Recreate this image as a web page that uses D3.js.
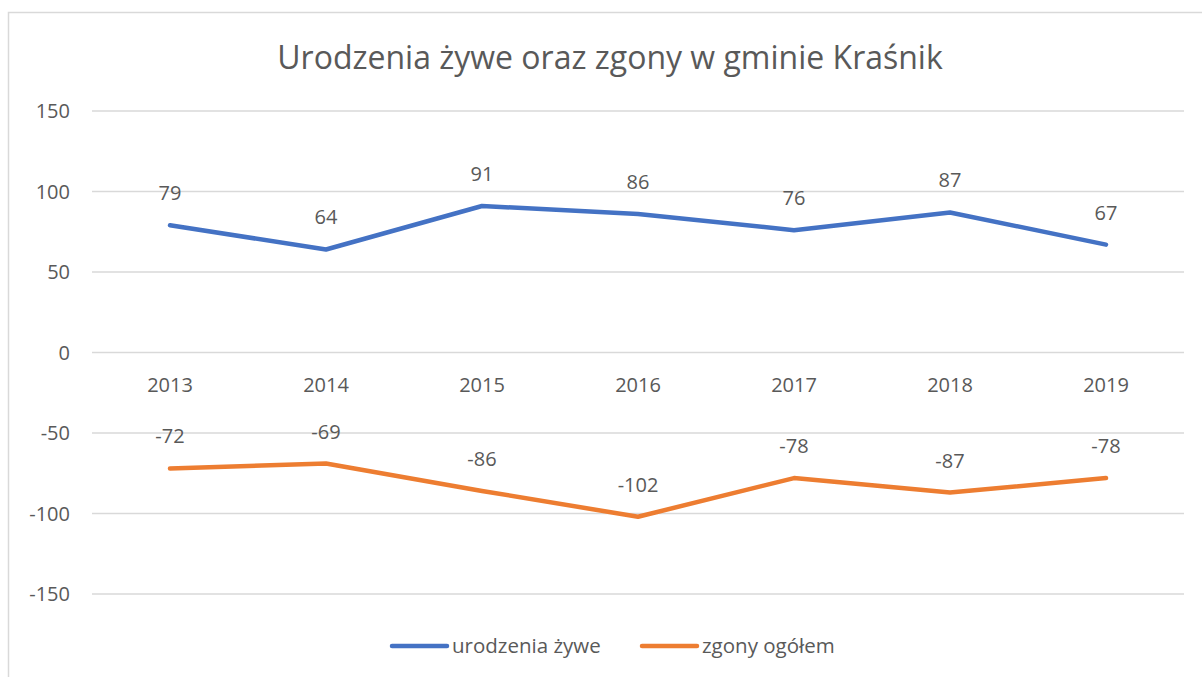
<!DOCTYPE html>
<html><head><meta charset="utf-8">
<script src="https://cdn.jsdelivr.net/npm/d3@7"></script>
<style>body{margin:0;background:#fff}svg{display:block}text{font-family:"Open Sans",sans-serif;fill:#595959}</style>
</head><body><svg id="c" width="1202" height="677"></svg>
<script>
const years = ["2013","2014","2015","2016","2017","2018","2019"];
const births = [79,64,91,86,76,87,67];
const deaths = [-72,-69,-86,-102,-78,-87,-78];
const yTicks = [150,100,50,0,-50,-100,-150];
const seriesNames = ["urodzenia żywe","zgony ogółem"];
const colors = ["#4472C4","#ED7D31"];
const title = "Urodzenia żywe oraz zgony w gminie Kraśnik";

const svg = d3.select("#c");
svg.append("rect").attr("x",8.5).attr("y",12.5).attr("width",1300).attr("height",800)
  .attr("fill","none").attr("stroke","#d9d9d9").attr("stroke-width",1.5);

const x = d3.scaleBand().domain(years).range([92,1184]);
const y = d3.scaleLinear().domain([-150,150]).range([594,111]);

svg.append("text").attr("x",610).attr("y",69).attr("text-anchor","middle")
  .style("font-size","32px").text(title);

const g = svg.append("g");
g.selectAll("line.grid").data(yTicks).join("line").attr("class","grid")
  .attr("x1",92).attr("x2",1184).attr("y1",d=>y(d)).attr("y2",d=>y(d))
  .attr("stroke","#d9d9d9").attr("stroke-width",1.5);
g.selectAll("text.yt").data(yTicks).join("text").attr("class","yt")
  .attr("x",70).attr("y",d=>y(d)).attr("dy","0.35em").attr("text-anchor","end")
  .style("font-size","20px").text(d=>d);
g.selectAll("text.xt").data(years).join("text").attr("class","xt")
  .attr("x",d=>x(d)+x.bandwidth()/2).attr("y",y(0)+32).attr("dy","0.35em").attr("text-anchor","middle")
  .style("font-size","20px").text(d=>d);

const line = d3.line().x((d,i)=>x(years[i])+x.bandwidth()/2).y(d=>y(d));
[births,deaths].forEach((s,k)=>{
  svg.append("path").attr("d",line(s)).attr("fill","none").attr("stroke",colors[k])
    .attr("stroke-width",4.5).attr("stroke-linecap","round").attr("stroke-linejoin","round");
  svg.selectAll(null).data(s).join("text")
    .attr("x",(d,i)=>x(years[i])+x.bandwidth()/2).attr("y",d=>y(d)-32).attr("dy","0.35em")
    .attr("text-anchor","middle").style("font-size","20px").text(d=>d);
});

const legX = [392,642];
seriesNames.forEach((n,k)=>{
  svg.append("line").attr("x1",legX[k]).attr("x2",legX[k]+55).attr("y1",646).attr("y2",646)
    .attr("stroke",colors[k]).attr("stroke-width",4.5).attr("stroke-linecap","round");
  svg.append("text").attr("x",legX[k]+60).attr("y",646).attr("dy","0.35em")
    .style("font-size","20.5px").text(n);
});
</script></body></html>
